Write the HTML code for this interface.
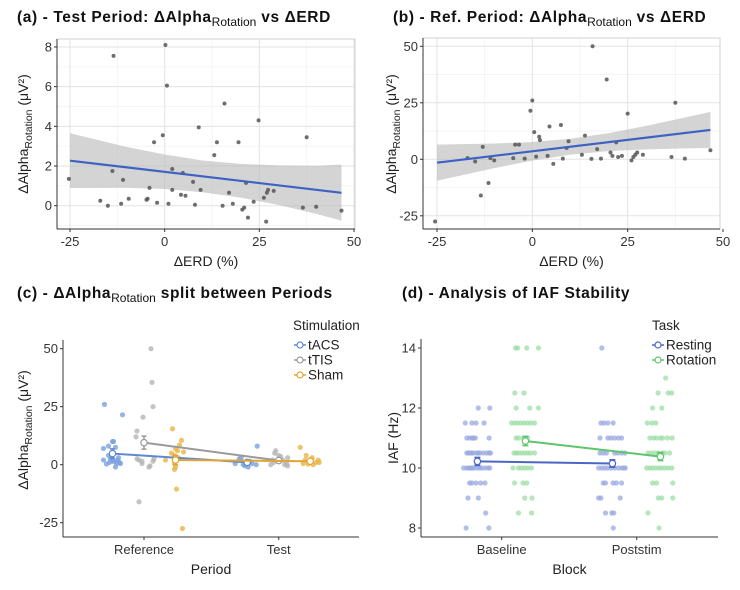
<!DOCTYPE html>
<html><head><meta charset="utf-8"><style>
body{margin:0;background:#fff}
svg{display:block;font-family:"Liberation Sans",Arial,sans-serif}
</style></head><body>
<svg id="fig" width="740" height="590" viewBox="0 0 740 590" xmlns="http://www.w3.org/2000/svg"></svg>
<script>
// ---------- Panel (a) data ----------
const aX=[-25.3,-13.5,-17,-15,-13.8,-11.5,-11,-9.5,-4.8,-4.5,-4,-2.8,-2,-0.5,0.2,0.6,1,2,2,4.3,4.8,5.5,7.5,8,9,9.5,13.1,13.8,15.3,15.8,17,18,19.5,20.5,21,21.5,22,23.5,24.8,26.2,26.8,27,27.3,28.8,36.5,37.5,40,46.7];
const aY=[1.35,7.55,0.25,0,1.75,0.1,1.3,0.35,0.3,0.35,0.9,3.2,0.15,3.55,8.1,6.05,0.1,1.85,0.8,0.55,1.65,0.5,1.2,0.05,3.95,0.8,2.55,3.2,0,5.15,0.65,0.1,3.2,-0.2,-0.1,1.15,-0.6,0.2,4.3,0.4,-0.8,0.65,0.8,0.75,-0.1,3.45,-0.05,-0.25];
const aFitX=[-25,46.7], aFitY=[2.27,0.65];
const aBandX=[-25,-10,0,10,20,30,40,46.7];
const aBandLo=[0.89,0.90,0.84,0.68,0.41,0.04,-0.41,-0.75];
const aBandHi=[3.65,2.96,2.58,2.28,2.11,2.03,2.01,2.08];
const aXTicks=[-25,0,25,50], aYTicks=[0,2,4,6,8];
// ---------- Panel (b) data ----------
const bX=[-25.5,-17,-15,-13.5,-13,-11.5,-11,-10,-5,-4.5,-3.5,-2,-0.5,0,0.5,1,1.8,2,4,4.5,5.5,7.5,8,9,9.5,13,13.8,15.5,15.8,17,18,19.5,20.5,21,22,22.5,23.5,25,26,26.5,27,27.5,29,36.5,37.5,40,46.7];
const bY=[-27.5,0.5,-1,-16,5.5,-10.5,0.5,-0.5,0.5,6.5,6.5,0.3,21.5,26,12,1.2,10,8.5,1.5,14.5,-2,15.2,0.3,5,8,2,10.5,0.2,50,4.5,0.3,35.3,3,1.5,7.5,1,1.5,20.2,-0.5,1,2,3,2,1,25,0.3,4];
const bFitX=[-25,46.7], bFitY=[-1.5,13];
const bBandX=[-25,-10,0,10,20,30,40,46.7];
const bBandLo=[-9.5,-3.92,-0.56,2.07,3.64,4.41,4.81,5];
const bBandHi=[6.5,6.98,7.68,9.09,11.56,14.83,18.47,21];
const bXTicks=[-25,0,25,50], bYTicks=[-25,0,25,50];
// ---------- Panel (c) data ----------
const cPeriods=["Reference","Test"];
const cStims=["tACS","tTIS","Sham"];
const cMeans=[[4.8,9.5,2],[1,1.8,1.5]];
const cErr=[[2,2.8,2],[0.6,0.8,0.6]];
const cYTicks=[-25,0,25,50];
const cPts=[
 [
  [[26,-0.8],[21.5,1],[10,0.1],[10,0],[7,-0.9],[8,-0.4],[7.5,0.3],[2,-0.9],[0.3,-0.6],[1,-0.3],[3,-0.1],[1.5,0.2],[0.5,0.4],[2,0.5],[1,0.7],[0.5,0.8],[-1,0.3],[2.5,-0.2],[4,-0.4],[1.5,0],[3,0.6]],
  [[50,0.7],[35.5,0.8],[25,0.9],[20.5,-0.1],[14.5,-0.7],[12,-0.8],[2.5,-0.7],[2,-0.5],[1.5,-0.2],[0.5,-0.2],[-0.5,0.6],[-1,0.5],[1.5,0.9],[2.5,1],[-16,-0.5]],
  [[15.5,-0.3],[10.5,0.6],[8.5,0.4],[7,0],[5.5,0.8],[5,-0.4],[4,-0.1],[2,-1],[0.5,-0.1],[-1,0],[-2,-0.1],[-10.5,0.1],[-27.5,0.7],[3,0.3],[6,0.2]]
 ],
 [
  [[8,1],[3,-0.6],[1,0],[0.5,-1.2],[0,-0.4],[-0.5,-0.2],[-1,0.1],[0.5,0.5],[0,0.9],[1.5,0.3],[2.5,-0.8]],
  [[6,-0.3],[5,-0.4],[3.5,0.2],[4,0],[2,-0.6],[1,-0.5],[0,-0.8],[0.5,0.8],[-0.5,0.9],[3,0.9],[2,0.4],[0,0.6]],
  [[7.5,-1],[4,-0.4],[3,0.2],[2,0.8],[1,0.9],[0.5,-0.7],[0.3,-0.2],[1.5,0],[2,-0.5],[0,0.3],[1,0.6]]
 ]
];
// ---------- Panel (d) data ----------
const dBlocks=["Baseline","Poststim"];
const dTasks=["Resting","Rotation"];
const dMeans=[[10.22,10.9],[10.15,10.38]];
const dErr=[[0.13,0.15],[0.12,0.13]];
const dYTicks=[8,10,12,14];
const dPts=[
 [
  [[12,[0.04,0.54]],[11.5,[-0.53,-0.24,-0.06,0.29]],[11,[-0.46,-0.34,-0.23,-0.17,-0.09,0.51]],[10.5,[-0.46,-0.39,-0.31,-0.24,-0.17,-0.03,0.04,0.11,0.26,0.4,0.51,0.57]],[10,[-0.6,-0.46,-0.39,-0.31,-0.24,-0.17,-0.03,0.09,0.19,0.33,0.47,0.54]],[9.5,[-0.34,-0.24,-0.06,0.14,0.33]],[9,[-0.41,0.04]],[8.5,[0.36]],[8,[-0.49,0.5]]],
  [[14,[-0.43,-0.34,0.06,0.57]],[12.5,[-0.46,-0.06]],[12,[-0.4,0.19,0.57]],[11.5,[-0.6,-0.47,-0.34,-0.2,-0.06,0.09,0.23,0.4]],[11,[-0.4,-0.3,-0.1,0,0.1]],[10.5,[-0.5,-0.4,-0.3,-0.17,-0.03,0.1,0.23,0.4]],[10,[-0.54,-0.3,-0.17,-0.03,0.1,0.26]],[9.5,[-0.47,-0.1,0.06]],[9,[-0.03,0.29]],[8.5,[-0.3,0.27]]]
 ],
 [
  [[14,[-0.46]],[11.5,[-0.5,-0.37,-0.2,0.03]],[11,[-0.54,-0.2,-0.06,0.1,0.26,0.4]],[10.5,[-0.54,-0.4,-0.26,0.1,0.23,0.4,0.54]],[10,[-0.6,-0.46,-0.33,-0.2,-0.06,0.1,0.26,0.4,0.5,0.56]],[9.5,[-0.4,-0.3,0.03,0.17,0.4]],[9,[-0.6,-0.5,0.34]],[8.5,[-0.3,-0.03,0.06]],[8,[0.04]]],
  [[13,[0.23]],[12.5,[-0.1,0.34,0.49]],[12,[-0.34,0.06]],[11.5,[-0.57,-0.37,-0.2]],[11,[-0.46,-0.29,-0.17,0,0.1,0.31,0.51]],[10.5,[-0.54,-0.4,-0.23,-0.1,0.1,0.2,0.4]],[10,[-0.6,-0.46,-0.34,-0.2,-0.06,0.06,0.2,0.34,0.5]],[9.5,[-0.34,-0.17,0.54]],[9,[-0.09,0.06,0.54]],[8.5,[-0.54]],[8,[-0.06]]]
 ]
];

const NS="http://www.w3.org/2000/svg";
const svg=document.getElementById('fig');
function el(tag,attrs,parent,text){const e=document.createElementNS(NS,tag);for(const k in attrs)e.setAttribute(k,attrs[k]);if(text!==undefined)e.textContent=text;(parent||svg).appendChild(e);return e;}
function lin(d0,d1,r0,r1){return v=>r0+(v-d0)*(r1-r0)/(d1-d0);}
function title(x,y,main,sub,rest,name){
  const t=el('text',{x:x,y:y,'font-size':15.5,'font-weight':'bold',fill:'#111','letter-spacing':0.6});
  
  
  el('tspan',{},t,main);el('tspan',{dy:4,'font-size':12,'font-weight':'normal','letter-spacing':0},t,sub);el('tspan',{dy:-4},t,rest);
}
function yTitleAlpha(cx,cy,name){
  const t=el('text',{transform:`translate(${cx},${cy}) rotate(-90)`,'text-anchor':'middle','font-size':14,fill:'#222'});
  
  
  el('tspan',{},t,'\u0394Alpha');el('tspan',{dy:4,'font-size':10.5},t,'Rotation');el('tspan',{dy:-4},t,' (\u03bcV\u00b2)');
}

function scatterPanel(o){
  const g=el('g',{});
  
  
  const sx=lin(o.xd[0],o.xd[1],o.xr[0],o.xr[1]), sy=lin(o.yd[0],o.yd[1],o.yr[0],o.yr[1]);
  const inY=v=>sy(v)>=o.T-0.5&&sy(v)<=o.B+0.5, inX=v=>sx(v)>=o.L-0.5&&sx(v)<=o.R+0.5;
  o.yMinor.forEach(v=>{if(inY(v))el('line',{x1:o.L,x2:o.R,y1:sy(v),y2:sy(v),stroke:'#f2f2f2','stroke-width':0.8},g);});
  o.xMinor.forEach(v=>{if(inX(v))el('line',{x1:sx(v),x2:sx(v),y1:o.T,y2:o.B,stroke:'#f2f2f2','stroke-width':0.8},g);});
  o.yTicks.forEach(v=>{if(inY(v))el('line',{x1:o.L,x2:o.R,y1:sy(v),y2:sy(v),stroke:'#e3e3e3','stroke-width':1},g);});
  o.xTicks.forEach(v=>{if(inX(v))el('line',{x1:sx(v),x2:sx(v),y1:o.T,y2:o.B,stroke:'#e3e3e3','stroke-width':1},g);});
  el('rect',{x:o.L,y:o.T,width:o.R-o.L,height:o.B-o.T,fill:'none',stroke:'#d0d0d0','stroke-width':1},g);
  let p='';
  o.bx.forEach((x,i)=>{p+=(i?'L':'M')+sx(x)+','+sy(o.bhi[i]);});
  for(let i=o.bx.length-1;i>=0;i--)p+='L'+sx(o.bx[i])+','+sy(o.blo[i]);
  const band=el('path',{d:p+'Z',fill:'#bdbdbd','fill-opacity':0.65},g);
  
  
  o.px.forEach((x,i)=>{
    const c=el('circle',{cx:sx(x),cy:sy(o.py[i]),r:2,fill:'#555','fill-opacity':0.85},g);
    
    
  });
  const ln=el('line',{x1:sx(o.fx[0]),y1:sy(o.fy[0]),x2:sx(o.fx[1]),y2:sy(o.fy[1]),stroke:'#3e62c4','stroke-width':2.2},g);
  
  
  el('line',{x1:o.L,x2:o.L,y1:o.T,y2:o.B,stroke:'#333','stroke-width':1},g);
  el('line',{x1:o.L,x2:o.R,y1:o.B,y2:o.B,stroke:'#333','stroke-width':1},g);
  o.yTicks.forEach(v=>{if(!inY(v))return;el('line',{x1:o.L-3,x2:o.L,y1:sy(v),y2:sy(v),stroke:'#333'},g);
    const t=el('text',{x:o.L-5,y:sy(v)+4.5,'text-anchor':'end','font-size':13,fill:'#333'},g,String(v));
    
    });
  o.xTicks.forEach(v=>{const x=sx(v);el('line',{x1:x,x2:x,y1:o.B,y2:o.B+3,stroke:'#333'},g);
    const t=el('text',{x:x,y:o.B+17,'text-anchor':'middle','font-size':13,fill:'#333'},g,String(v));
    
    });
  const xt=el('text',{x:(o.L+o.R)/2,y:o.B+37,'text-anchor':'middle','font-size':14,fill:'#222'},g,'\u0394ERD (%)');
  
  
}

title(17,22,'(a) - Test Period: \u0394Alpha','Rotation',' vs \u0394ERD','title-a');
scatterPanel({name:'panel-a',L:57,R:355,T:39,B:229,xd:[-25,50],xr:[70,354],yd:[0,8],yr:[205.7,47],
  px:aX,py:aY,fx:aFitX,fy:aFitY,bx:aBandX,blo:aBandLo,bhi:aBandHi,
  xTicks:aXTicks,yTicks:aYTicks,xMinor:[-12.5,12.5,37.5],yMinor:[-1,1,3,5,7]});
yTitleAlpha(28,134,'y-axis-title-a');

title(393,22,'(b) - Ref. Period: \u0394Alpha','Rotation',' vs \u0394ERD','title-b');
scatterPanel({name:'panel-b',L:423,R:720,T:38,B:229,xd:[-25,50],xr:[437,723],yd:[0,50],yr:[159.3,46.3],
  px:bX,py:bY,fx:bFitX,fy:bFitY,bx:bBandX,blo:bBandLo,bhi:bBandHi,
  xTicks:bXTicks,yTicks:bYTicks,xMinor:[-12.5,12.5,37.5],yMinor:[-12.5,12.5,37.5]});
yTitleAlpha(396,134,'y-axis-title-b');

(function(){
  const g=el('g',{});
  
  
  const L=63,R=359,T=340,B=537;
  const sy=lin(0,50,464.7,348.7);
  const catX=i=>144+i*134.7;
  const dodge=[-31.5,0,31.5];
  const dotCol=['#7aa0df','#b5b5b5','#e8b447'];
  const lineCol=['#5d88d2','#9a9a9a','#e2a531'];
  cPts.forEach((per,pi)=>per.forEach((grp,si)=>grp.forEach(pt=>{
    const c=el('circle',{cx:catX(pi)+dodge[si]+pt[1]*10,cy:sy(pt[0]),r:2.6,fill:dotCol[si],'fill-opacity':0.8},g);
    
    
  })));
  cStims.forEach((s,si)=>{
    const x0=catX(0)+dodge[si],x1=catX(1)+dodge[si];
    const l=el('line',{x1:x0,y1:sy(cMeans[0][si]),x2:x1,y2:sy(cMeans[1][si]),stroke:lineCol[si],'stroke-width':2},g);
    
    
    [0,1].forEach(pi=>{
      const x=catX(pi)+dodge[si],m=cMeans[pi][si],e=cErr[pi][si];
      el('path',{d:`M${x-2.5},${sy(m+e)}H${x+2.5}M${x},${sy(m+e)}V${sy(m-e)}M${x-2.5},${sy(m-e)}H${x+2.5}`,stroke:lineCol[si],'stroke-width':1.5,fill:'none'},g);
      const c=el('circle',{cx:x,cy:sy(m),r:3.2,fill:'#fff',stroke:lineCol[si],'stroke-width':1.2},g);
      
      
    });
  });
  el('line',{x1:L,x2:L,y1:T,y2:B,stroke:'#333'},g);
  el('line',{x1:L,x2:R,y1:B,y2:B,stroke:'#333'},g);
  cYTicks.forEach(v=>{el('line',{x1:L-3,x2:L,y1:sy(v),y2:sy(v),stroke:'#333'},g);
    const t=el('text',{x:L-5,y:sy(v)+4.5,'text-anchor':'end','font-size':13,fill:'#333'},g,String(v));
    
    });
  cPeriods.forEach((p,i)=>{el('line',{x1:catX(i),x2:catX(i),y1:B,y2:B+3,stroke:'#333'},g);
    const t=el('text',{x:catX(i),y:B+17,'text-anchor':'middle','font-size':13,fill:'#333'},g,p);
    
    });
  const xt=el('text',{x:(L+R)/2,y:574,'text-anchor':'middle','font-size':14,fill:'#222'},g,'Period');
  
  
  const lg=el('g',{},g);
  
  
  el('text',{x:293,y:330,'font-size':13.5,fill:'#222'},lg,'Stimulation');
  cStims.forEach((s,i)=>{const y=345+i*15;
    el('line',{x1:294,x2:306,y1:y,y2:y,stroke:lineCol[i],'stroke-width':1.5},lg);
    el('circle',{cx:300,cy:y,r:3,fill:'#fff',stroke:lineCol[i],'stroke-width':1.2},lg);
    const t=el('text',{x:308,y:y+4.5,'font-size':13.5,fill:'#222'},lg,s);
    
    });
})();
title(17,298,'(c) - \u0394Alpha','Rotation',' split between Periods','title-c');
yTitleAlpha(28,430,'y-axis-title-c');

(function(){
  const g=el('g',{});
  
  
  const L=421,R=718,T=339,B=537;
  const sy=lin(8,14,528,348);
  const catX=i=>501.7+i*135;
  const dodge=[-24.3,23.7];
  const dotCol=['#9aa9e0','#9ddda6'];
  const lineCol=['#4a66c6','#5fc56d'];
  dPts.forEach((blk,bi)=>blk.forEach((grp,ti)=>grp.forEach(row=>row[1].forEach(j=>{
    const c=el('circle',{cx:catX(bi)+dodge[ti]+j*23,cy:sy(row[0]),r:2.6,fill:dotCol[ti],'fill-opacity':0.75},g);
    
    
  }))));
  dTasks.forEach((s,ti)=>{
    const l=el('line',{x1:catX(0)+dodge[ti],y1:sy(dMeans[0][ti]),x2:catX(1)+dodge[ti],y2:sy(dMeans[1][ti]),stroke:lineCol[ti],'stroke-width':2},g);
    
    
    [0,1].forEach(bi=>{
      const x=catX(bi)+dodge[ti],m=dMeans[bi][ti],e=dErr[bi][ti];
      el('path',{d:`M${x-3},${sy(m+e)}H${x+3}M${x},${sy(m+e)}V${sy(m-e)}M${x-3},${sy(m-e)}H${x+3}`,stroke:lineCol[ti],'stroke-width':1.8,fill:'none'},g);
      const c=el('circle',{cx:x,cy:sy(m),r:3.2,fill:'#fff',stroke:lineCol[ti],'stroke-width':1.2},g);
      
      
    });
  });
  el('line',{x1:L,x2:L,y1:T,y2:B,stroke:'#333'},g);
  el('line',{x1:L,x2:R,y1:B,y2:B,stroke:'#333'},g);
  dYTicks.forEach(v=>{el('line',{x1:L-3,x2:L,y1:sy(v),y2:sy(v),stroke:'#333'},g);
    const t=el('text',{x:L-5,y:sy(v)+4.5,'text-anchor':'end','font-size':13,fill:'#333'},g,String(v));
    
    });
  dBlocks.forEach((p,i)=>{el('line',{x1:catX(i),x2:catX(i),y1:B,y2:B+3,stroke:'#333'},g);
    const t=el('text',{x:catX(i),y:B+17,'text-anchor':'middle','font-size':13,fill:'#333'},g,p);
    
    });
  const xt=el('text',{x:(L+R)/2,y:574,'text-anchor':'middle','font-size':14,fill:'#222'},g,'Block');
  
  
  const yt=el('text',{transform:`translate(398,438) rotate(-90)`,'text-anchor':'middle','font-size':14,fill:'#222'},g,'IAF (Hz)');
  
  
  const lg=el('g',{},g);
  
  
  el('text',{x:652,y:330,'font-size':13.5,fill:'#222'},lg,'Task');
  dTasks.forEach((s,i)=>{const y=345+i*15;
    el('line',{x1:652,x2:664,y1:y,y2:y,stroke:lineCol[i],'stroke-width':1.5},lg);
    el('circle',{cx:658,cy:y,r:3,fill:'#fff',stroke:lineCol[i],'stroke-width':1.2},lg);
    const t=el('text',{x:666,y:y+4.5,'font-size':13.5,fill:'#222'},lg,s);
    
    });
})();
const td=el('text',{x:402,y:298,'font-size':15.5,'font-weight':'bold',fill:'#111','letter-spacing':0.6},svg,'(d) - Analysis of IAF Stability');


</script>
</body></html>
